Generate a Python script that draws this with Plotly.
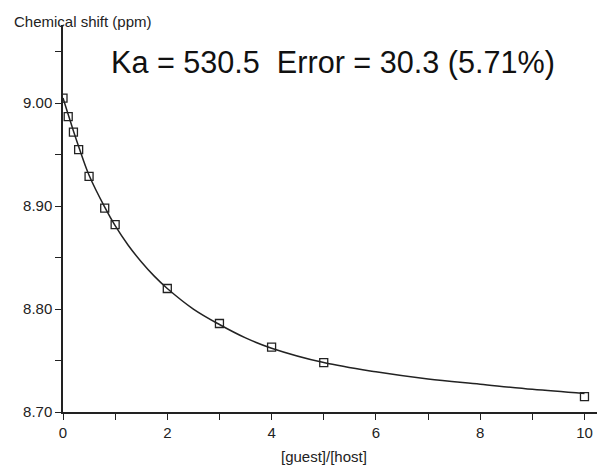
import plotly.graph_objects as go

# Measured data points
ratio = [0, 0.1, 0.2, 0.3, 0.5, 0.8, 1, 2, 3, 4, 5, 10]
shift = [9.005, 8.987, 8.972, 8.955, 8.929, 8.898, 8.882, 8.820, 8.786, 8.763, 8.748, 8.715]

# Fitted curve
fit_x = [0, 0.1, 0.2, 0.3, 0.5, 0.8, 1, 1.25, 1.5, 1.75, 2, 2.5, 3, 3.5, 4, 5, 6, 7, 8, 9, 10]
fit_y = [9.005, 8.989, 8.973, 8.958, 8.930, 8.899, 8.881, 8.862, 8.846, 8.832, 8.820, 8.800,
         8.785, 8.772, 8.762, 8.748, 8.739, 8.732, 8.727, 8.722, 8.718]

x_ticks = [0, 2, 4, 6, 8, 10]
y_ticks = [8.70, 8.80, 8.90, 9.00]
y_tick_labels = ["8.70", "8.80", "8.90", "9.00"]

title_text = "Ka = 530.5\u00a0\u00a0Error = 30.3 (5.71%)"
y_title = "Chemical shift (ppm)"
x_title = "[guest]/[host]"

FONT = "Liberation Sans, Arial, sans-serif"
INK = "#222222"

fig = go.Figure()
fig.add_trace(go.Scatter(x=fit_x, y=fit_y, mode="lines",
                         line=dict(color=INK, width=1.5, shape="spline", smoothing=1.0),
                         hoverinfo="skip", showlegend=False))
fig.add_trace(go.Scatter(x=ratio, y=shift, mode="markers",
                         marker=dict(symbol="square-open", size=8, color=INK,
                                     line=dict(width=1.3, color=INK)),
                         showlegend=False))

fig.update_layout(
    width=597, height=466,
    margin=dict(l=63, r=0, t=25, b=54),
    paper_bgcolor="white", plot_bgcolor="white",
    font=dict(family=FONT, size=15, color=INK),
    xaxis=dict(range=[0, 10.24], tickvals=x_ticks, ticks="outside", ticklen=6,
               tickwidth=1.3, tickcolor=INK, showline=True, linecolor=INK,
               linewidth=1.5, showgrid=False, zeroline=False,
               minor=dict(tickvals=[1, 3, 5, 7, 9], ticks="outside", ticklen=6,
                          tickwidth=1.3, tickcolor=INK, showgrid=False),
               tickfont=dict(size=15)),
    yaxis=dict(range=[8.70, 9.076], tickvals=y_ticks, ticktext=y_tick_labels,
               ticks="outside", ticklen=6, tickwidth=1.3, tickcolor=INK,
               showline=True, linecolor=INK, linewidth=1.5, showgrid=False,
               zeroline=False,
               minor=dict(tickvals=[8.75, 8.85, 8.95, 9.05], ticks="outside",
                          ticklen=6, tickwidth=1.3, tickcolor=INK, showgrid=False),
               tickfont=dict(size=15)),
    annotations=[
        dict(text=title_text, xref="paper", yref="paper", x=0.506, y=0.902,
             xanchor="center", yanchor="middle", showarrow=False,
             font=dict(size=30.6, color="#111111")),
        dict(text=y_title, xref="paper", yref="paper", x=-0.0955, y=1.008,
             xanchor="left", yanchor="middle", showarrow=False,
             font=dict(size=15)),
        dict(text=x_title, xref="paper", yref="paper", x=0.489, y=-0.116,
             xanchor="center", yanchor="middle", showarrow=False,
             font=dict(size=15)),
    ],
)

fig.write_html("out.html", config={"displayModeBar": False},
               post_script="document.body.style.margin='0';document.body.style.overflow='hidden';")
